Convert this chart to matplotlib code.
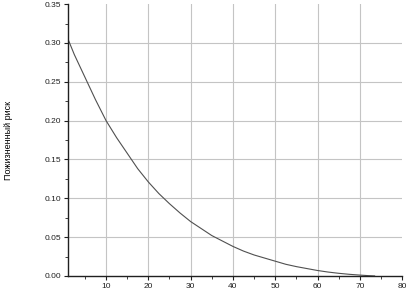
import matplotlib
matplotlib.use("Agg")
import matplotlib.pyplot as plt
from matplotlib.ticker import MultipleLocator

age = [1, 2.5, 5, 7.5, 10, 12.5, 15, 17.5, 20, 22.5, 25, 27.5, 30, 32.5, 35,
       37.5, 40, 42.5, 45, 47.5, 50, 52.5, 55, 57.5, 60, 62.5, 65, 67.5, 70, 72, 73.5]
risk = [0.305, 0.285, 0.256, 0.227, 0.200, 0.178, 0.158, 0.138, 0.121, 0.106,
        0.093, 0.081, 0.070, 0.061, 0.052, 0.045, 0.038, 0.032, 0.027, 0.023,
        0.019, 0.015, 0.012, 0.0095, 0.0070, 0.0050, 0.0034, 0.0021, 0.0011, 0.0004, 0.0]
ylabel = "Пожизненный риск"

plt.rcParams['font.family'] = ['Liberation Sans', 'DejaVu Sans']
fig = plt.figure(figsize=(4.07, 2.92), dpi=100)
ax = fig.add_axes([0.167, 0.055, 0.821, 0.931])
ax.set_xlim(1, 80)
ax.set_ylim(0, 0.35)
ax.xaxis.set_minor_locator(MultipleLocator(5))
ax.yaxis.set_minor_locator(MultipleLocator(0.025))
ax.set_yticks([0, 0.05, 0.1, 0.15, 0.2, 0.25, 0.3, 0.35])
ax.set_yticklabels(['0.00', '0.05', '0.10', '0.15', '0.20', '0.25', '0.30', '0.35'])
ax.set_xticks([10, 20, 30, 40, 50, 60, 70, 80])
for xv in [10, 20, 30, 40, 50, 60, 70]:
    ax.axvline(xv, color='#c4c4c4', lw=0.8, zorder=0)
for yv in [0.05, 0.1, 0.15, 0.2, 0.25, 0.3]:
    ax.axhline(yv, color='#c4c4c4', lw=0.8, zorder=0)
ax.plot(age, risk, color='#505050', lw=0.8)
for s in ['top', 'right']:
    ax.spines[s].set_visible(False)
for s in ['left', 'bottom']:
    ax.spines[s].set_linewidth(1.0)
    ax.spines[s].set_color('#202020')
ax.tick_params(which='major', length=3, width=0.8, labelsize=6, colors='#202020', pad=2)
ax.tick_params(which='minor', length=2, width=0.6, colors='#202020')
ax.set_ylabel(ylabel, fontsize=6.5)
ax.yaxis.set_label_coords(-0.165, 0.5)
fig.savefig('out.png', dpi=100)
